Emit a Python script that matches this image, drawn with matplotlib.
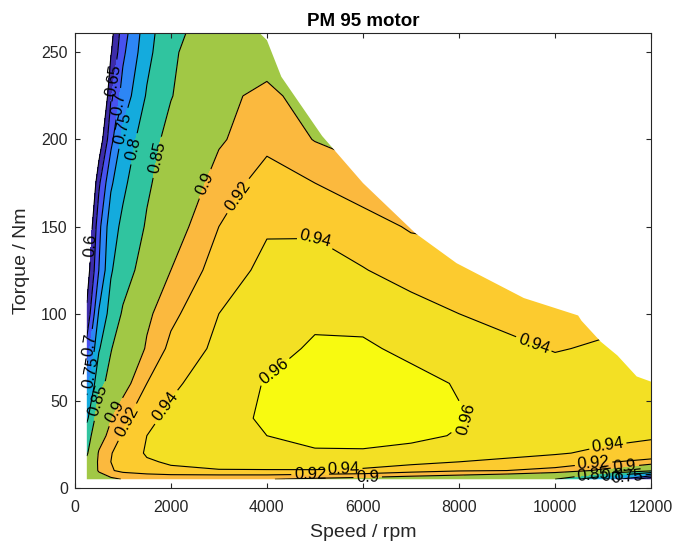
import numpy as np
import matplotlib.pyplot as plt
from matplotlib.patches import Polygon

plt.rcParams['font.family'] = ['Liberation Sans', 'DejaVu Sans']

# efficiency map
speed = [250, 500, 750, 1000, 1500, 2000, 3000, 4000, 5000, 6000, 7000, 8000, 9000, 10000, 11000, 12000]
torque = [5, 10, 15, 20, 30, 40, 60, 80, 100, 125, 150, 175, 200, 225, 250, 275]
efficiency = [
    [0.87, 0.885, 0.895, 0.901, 0.901, 0.901, 0.901, 0.901, 0.895, 0.89, 0.885, 0.88, 0.87, 0.85, 0.75, 0.60],
    [0.87, 0.903, 0.918, 0.925, 0.932, 0.937, 0.939, 0.939, 0.939, 0.937, 0.928, 0.922, 0.92, 0.915, 0.895, 0.86],
    [0.86, 0.905, 0.92, 0.927, 0.938, 0.942, 0.946, 0.948, 0.949, 0.949, 0.946, 0.94, 0.935, 0.93, 0.922, 0.915],
    [0.845, 0.903, 0.919, 0.928, 0.942, 0.946, 0.952, 0.956, 0.958, 0.958, 0.956, 0.952, 0.947, 0.942, 0.936, 0.93],
    [0.83, 0.885, 0.91, 0.922, 0.94, 0.946, 0.954, 0.96, 0.965, 0.966, 0.963, 0.959, 0.953, 0.949, 0.946, 0.943],
    [0.79, 0.88, 0.898, 0.915, 0.935, 0.945, 0.955, 0.962, 0.967, 0.968, 0.966, 0.961, 0.955, 0.951, 0.948, 0.946],
    [0.73, 0.838, 0.862, 0.89, 0.92, 0.936, 0.952, 0.961, 0.966, 0.967, 0.964, 0.959, 0.953, 0.948, 0.946, 0.945],
    [0.67, 0.795, 0.848, 0.87, 0.903, 0.925, 0.945, 0.955, 0.962, 0.962, 0.957, 0.95, 0.944, 0.939, 0.942, 0.945],
    [0.61, 0.755, 0.82, 0.855, 0.895, 0.915, 0.94, 0.952, 0.957, 0.956, 0.948, 0.94, 0.935, 0.932, 0.935, 0.94],
    [0.57, 0.70, 0.795, 0.83, 0.87, 0.90, 0.93, 0.945, 0.948, 0.941, 0.932, 0.93, 0.93, 0.93, 0.93, 0.93],
    [0.53, 0.685, 0.78, 0.81, 0.855, 0.888, 0.92, 0.938, 0.937, 0.928, 0.918, 0.915, 0.91, 0.91, 0.91, 0.91],
    [0.48, 0.64, 0.742, 0.79, 0.843, 0.875, 0.91, 0.928, 0.92, 0.91, 0.905, 0.90, 0.90, 0.90, 0.90, 0.90],
    [0.42, 0.56, 0.685, 0.765, 0.83, 0.865, 0.897, 0.915, 0.899, 0.89, 0.89, 0.89, 0.89, 0.89, 0.89, 0.89],
    [0.38, 0.48, 0.645, 0.72, 0.805, 0.848, 0.895, 0.905, 0.89, 0.885, 0.885, 0.885, 0.885, 0.885, 0.885, 0.885],
    [0.33, 0.45, 0.595, 0.69, 0.785, 0.845, 0.875, 0.89, 0.885, 0.88, 0.88, 0.88, 0.88, 0.88, 0.88, 0.88],
    [0.30, 0.42, 0.56, 0.66, 0.77, 0.835, 0.865, 0.88, 0.88, 0.875, 0.875, 0.875, 0.875, 0.875, 0.875, 0.875],
]

# maximum torque envelope
env_speed = [250, 3700, 3850, 4000, 4300, 5150, 6000, 7100, 7950, 9350, 10480, 10550, 10950, 11300, 11700, 12000]
env_torque = [280, 280, 261, 257, 236, 202, 175, 146, 129, 109, 99, 96, 84, 76, 64, 61]
min_speed = 250
min_torque = 5

levels = [0.6, 0.65, 0.7, 0.75, 0.8, 0.85, 0.9, 0.92, 0.94, 0.96, 1.0]
fill_colors = ['#3d2ca9', '#4852ef', '#2d86f5', '#14abdd', '#30c49f',
               '#a1c845', '#fbb93e', '#fccb2f', '#f3e024', '#f8fa10']

# where the contour labels sit (speed, torque)
label_spots = {
    0.6: [(360, 139)],
    0.65: [(790, 234)],
    0.7: [(1000, 220), (350, 82)],
    0.75: [(1100, 206), (350, 66), (11500, 6)],
    0.8: [(1330, 194), (11200, 7)],
    0.85: [(1830, 189), (560, 50), (10800, 6)],
    0.9: [(2600, 176), (830, 44), (6100, 5), (11450, 14)],
    0.92: [(3380, 168), (1080, 38), (4900, 8), (10800, 15)],
    0.94: [(5050, 145), (1970, 45), (5600, 11), (9550, 82), (11100, 24)],
    0.96: [(4300, 61), (8250, 36)],
}

fig, ax = plt.subplots(figsize=(6.74, 5.44), dpi=100)
fig.subplots_adjust(left=0.111, right=0.966, bottom=0.103, top=0.939)

cf = ax.contourf(speed, torque, efficiency, levels=levels, colors=fill_colors)

# clip everything to the operating region
outline = list(zip(env_speed, env_torque)) + [(env_speed[-1], min_torque), (min_speed, min_torque)]
env = Polygon(outline, closed=True, transform=ax.transData, facecolor='none', edgecolor='none')
ax.add_patch(env)
cf.set_clip_path(env)

# one line set per level so every label lands on its own level
for lev, spots in label_spots.items():
    cs = ax.contour(speed, torque, efficiency, levels=[lev], colors='k', linewidths=0.8)
    cs.set_clip_path(env)
    cs.clabel(fmt='%g', fontsize=12, inline=True, inline_spacing=3, manual=spots)

ax.set_xlim(0, 12000)
ax.set_ylim(0, 261)
ax.set_xticks(np.arange(0, 12001, 2000))
ax.set_yticks(np.arange(0, 251, 50))
ax.tick_params(direction='in', top=True, right=True, labelsize=11.5, color='#262626', labelcolor='#262626')
ax.tick_params(axis='x', pad=9)
ax.tick_params(axis='y', pad=5)
for s in ax.spines.values():
    s.set_color('#262626')
    s.set_linewidth(0.8)

ax.set_xlabel('Speed / rpm', fontsize=14, color='#262626', labelpad=6)
ax.set_ylabel('Torque / Nm', fontsize=14, color='#262626', labelpad=8)
ax.set_title('PM 95 motor', fontsize=13.5, fontweight='bold', pad=5)

plt.savefig('out.png', dpi=100)
